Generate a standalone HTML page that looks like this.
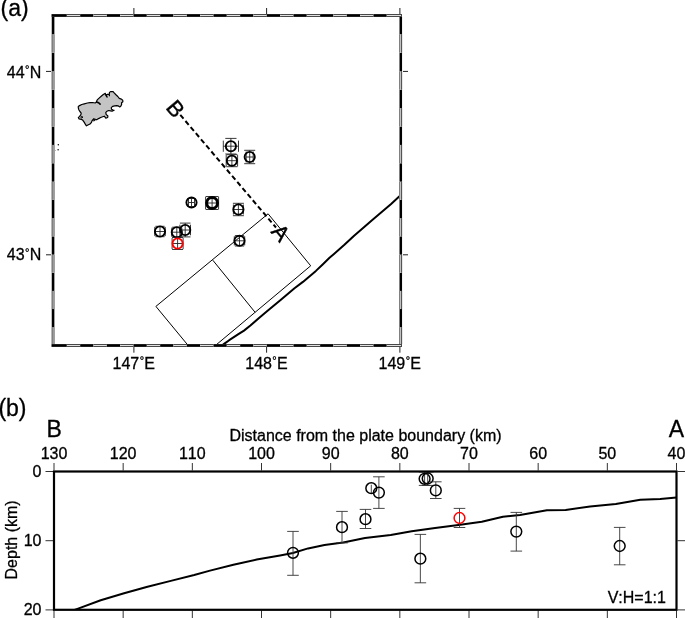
<!DOCTYPE html>
<html><head><meta charset="utf-8"><style>
html,body{margin:0;padding:0;background:#fff;width:685px;height:618px;overflow:hidden}
svg{display:block;will-change:transform}
text{font-family:"Liberation Sans",sans-serif;fill:#000;font-kerning:none}
</style></head><body>
<svg width="685" height="618" viewBox="0 0 685 618">
<rect width="685" height="618" fill="#fff"/>
<text x="0.47" y="16.20" stroke="#000" stroke-width="0.3"><tspan font-size="23">(a)</tspan></text>
<text x="41.30" y="77.62" text-anchor="end" stroke="#000" stroke-width="0.3"><tspan font-size="16">44</tspan><tspan font-size="11" dx="0.4" dy="-4.6">°</tspan><tspan font-size="16" dx="0.3" dy="4.6">N</tspan></text>
<text x="41.30" y="260.21" text-anchor="end" stroke="#000" stroke-width="0.3"><tspan font-size="16">43</tspan><tspan font-size="11" dx="0.4" dy="-4.6">°</tspan><tspan font-size="16" dx="0.3" dy="4.6">N</tspan></text>
<text x="133.80" y="368.70" text-anchor="middle" stroke="#000" stroke-width="0.3"><tspan font-size="16">147</tspan><tspan font-size="11" dx="0.4" dy="-4.6">°</tspan><tspan font-size="16" dx="0.3" dy="4.6">E</tspan></text>
<text x="266.50" y="368.70" text-anchor="middle" stroke="#000" stroke-width="0.3"><tspan font-size="16">148</tspan><tspan font-size="11" dx="0.4" dy="-4.6">°</tspan><tspan font-size="16" dx="0.3" dy="4.6">E</tspan></text>
<text x="399.80" y="368.70" text-anchor="middle" stroke="#000" stroke-width="0.3"><tspan font-size="16">149</tspan><tspan font-size="11" dx="0.4" dy="-4.6">°</tspan><tspan font-size="16" dx="0.3" dy="4.6">E</tspan></text>
<defs><clipPath id="mc"><rect x="53" y="15.5" width="347.5" height="330"/></clipPath></defs>
<g clip-path="url(#mc)">
<polygon points="78.3,106.6 79.6,105.6 81.7,104.5 84.3,103.8 87.4,103.0 90.0,102.6 92.6,102.5 95.2,103.0 96.4,102.2 96.7,100.9 97.2,99.9 99.1,98.1 101.2,96.3 103.3,94.5 105.3,93.4 105.8,94.7 106.6,96.4 106.4,94.9 107.9,94.2 109.2,94.7 109.5,92.4 110.5,91.6 113.1,91.6 114.4,93.2 115.7,94.5 117.8,96.5 119.3,98.4 121.4,99.1 122.7,100.2 122.9,101.7 121.6,102.8 121.6,104.6 120.9,106.1 119.8,106.9 118.3,105.9 116.7,105.6 114.7,105.9 112.6,106.4 111.3,107.7 111.5,109.2 113.1,110 114.1,110.3 112.1,111.1 110.5,110.8 108.7,110.5 106.9,111.3 105.8,112.4 106.1,114.4 107.9,116 107.7,117.5 105.8,118.1 104.3,116.2 102.7,116.8 100.7,117.5 98.6,118.6 97,119.6 96.7,119.8 95.2,119.3 93.6,118.8 92.0,120.8 91.5,122.4 90.0,124 87.9,125 86.4,125.8 85.6,124.7 84.3,122.4 82.7,120.1 81.2,119.3 79.1,118.8 78.3,117.7 79.6,116.4 80.9,114.6 81.2,113.1 79.9,111.5 78.8,109.7 78.3,107.9" fill="#c4c4c4" stroke="#000" stroke-width="1.2" stroke-linejoin="round"/>
<g fill="none" stroke="#000" stroke-linecap="round"><polyline points="96.6,101.9 98.5,102.7 100.1,104.2" stroke-width="1.6"/><polyline points="105.8,94.7 107.1,97.1" stroke-width="1.3"/><polyline points="109.2,94.7 109.5,95.8" stroke-width="1.1"/><circle cx="93.9" cy="120.1" r="0.9" stroke-width="1"/><circle cx="81.7" cy="117.2" r="0.8" stroke-width="1"/></g>
<circle cx="58.3" cy="144.7" r="0.75" fill="#000"/>
<circle cx="58.1" cy="149.8" r="0.75" fill="#000"/>
<circle cx="54.6" cy="150.5" r="0.75" fill="#000"/>
<g fill="none" stroke="#000" stroke-width="1">
<polyline points="268.1,213.8 310.7,265.8 214.2,346.5"/>
<polyline points="268.1,213.8 155.9,306.4 189.0,346.5"/>
<line x1="212.8" y1="260.2" x2="255.1" y2="312.3"/>
</g>
<polyline points="221.5,345.8 224.1,343.9 229.2,340.2 238.4,334.2 244,330.6 250.4,325.5 259.6,317.5 267.9,310.6 280.9,299.7 294.5,288.3 302.9,281.9 309.4,276.4 315.9,270.9 322.4,264.7 329.5,257.8 333.4,254.5 344.4,244.8 354.1,235.7 364.5,226.7 371.7,220.4 381.4,212.3 391.1,203.9 399.2,196.5 401,195" fill="none" stroke="#000" stroke-width="2" stroke-linejoin="round"/>
<line x1="179.5" y1="114" x2="276" y2="227.5" stroke="#000" stroke-width="2" stroke-dasharray="5,3" stroke-dashoffset="-1.2"/>
<text x="169.78" y="113.69" text-anchor="middle" transform="rotate(50 169.78 113.69)" stroke="#000" stroke-width="0.4"><tspan font-size="22">B</tspan></text>
<text x="274.98" y="237.69" text-anchor="middle" transform="rotate(50 274.98 237.69)" stroke="#000" stroke-width="0.4"><tspan font-size="22">A</tspan></text>
<line x1="223.3" y1="146.2" x2="238.5" y2="146.2" stroke="#222" stroke-width="0.9"/><line x1="230.9" y1="138.39999999999998" x2="230.9" y2="154.0" stroke="#222" stroke-width="0.9"/><line x1="223.3" y1="140.6" x2="223.3" y2="151.79999999999998" stroke="#222" stroke-width="0.9"/><line x1="238.5" y1="140.6" x2="238.5" y2="151.79999999999998" stroke="#222" stroke-width="0.9"/><line x1="225.3" y1="138.39999999999998" x2="236.5" y2="138.39999999999998" stroke="#222" stroke-width="0.9"/><line x1="225.3" y1="154.0" x2="236.5" y2="154.0" stroke="#222" stroke-width="0.9"/><circle cx="230.9" cy="146.2" r="5.1" fill="none" stroke="#000" stroke-width="1.9"/>
<line x1="226.20000000000002" y1="160.7" x2="237.6" y2="160.7" stroke="#222" stroke-width="0.9"/><line x1="231.9" y1="154.7" x2="231.9" y2="166.7" stroke="#222" stroke-width="0.9"/><line x1="226.20000000000002" y1="155.1" x2="226.20000000000002" y2="166.29999999999998" stroke="#222" stroke-width="0.9"/><line x1="237.6" y1="155.1" x2="237.6" y2="166.29999999999998" stroke="#222" stroke-width="0.9"/><line x1="226.3" y1="154.7" x2="237.5" y2="154.7" stroke="#222" stroke-width="0.9"/><line x1="226.3" y1="166.7" x2="237.5" y2="166.7" stroke="#222" stroke-width="0.9"/><circle cx="231.9" cy="160.7" r="5.1" fill="none" stroke="#000" stroke-width="1.9"/>
<line x1="246.2" y1="157.0" x2="253.2" y2="157.0" stroke="#222" stroke-width="0.9"/><line x1="249.7" y1="150.3" x2="249.7" y2="163.7" stroke="#222" stroke-width="0.9"/><line x1="246.2" y1="151.5" x2="246.2" y2="162.5" stroke="#222" stroke-width="0.9"/><line x1="253.2" y1="151.5" x2="253.2" y2="162.5" stroke="#222" stroke-width="0.9"/><line x1="244.2" y1="150.3" x2="255.2" y2="150.3" stroke="#222" stroke-width="0.9"/><line x1="244.2" y1="163.7" x2="255.2" y2="163.7" stroke="#222" stroke-width="0.9"/><circle cx="249.7" cy="157.0" r="5.1" fill="none" stroke="#000" stroke-width="1.9"/>
<line x1="188.5" y1="202.5" x2="194.5" y2="202.5" stroke="#222" stroke-width="0.9"/><line x1="191.5" y1="198.5" x2="191.5" y2="206.5" stroke="#222" stroke-width="0.9"/><line x1="188.5" y1="198.5" x2="188.5" y2="206.5" stroke="#222" stroke-width="0.9"/><line x1="194.5" y1="198.5" x2="194.5" y2="206.5" stroke="#222" stroke-width="0.9"/><line x1="187.5" y1="198.5" x2="195.5" y2="198.5" stroke="#222" stroke-width="0.9"/><line x1="187.5" y1="206.5" x2="195.5" y2="206.5" stroke="#222" stroke-width="0.9"/><circle cx="191.5" cy="202.5" r="5.1" fill="none" stroke="#000" stroke-width="1.9"/>
<line x1="205.6" y1="203.0" x2="218.6" y2="203.0" stroke="#222" stroke-width="0.9"/><line x1="212.1" y1="196.5" x2="212.1" y2="209.5" stroke="#222" stroke-width="0.9"/><line x1="205.6" y1="196.7" x2="205.6" y2="209.3" stroke="#222" stroke-width="0.9"/><line x1="218.6" y1="196.7" x2="218.6" y2="209.3" stroke="#222" stroke-width="0.9"/><line x1="205.79999999999998" y1="196.5" x2="218.4" y2="196.5" stroke="#222" stroke-width="0.9"/><line x1="205.79999999999998" y1="209.5" x2="218.4" y2="209.5" stroke="#222" stroke-width="0.9"/><circle cx="212.1" cy="203.0" r="5.4" fill="none" stroke="#000" stroke-width="3.0"/>
<line x1="233.4" y1="209.5" x2="243.4" y2="209.5" stroke="#222" stroke-width="0.9"/><line x1="238.4" y1="203.3" x2="238.4" y2="215.7" stroke="#222" stroke-width="0.9"/><line x1="233.4" y1="204.5" x2="233.4" y2="214.5" stroke="#222" stroke-width="0.9"/><line x1="243.4" y1="204.5" x2="243.4" y2="214.5" stroke="#222" stroke-width="0.9"/><line x1="232.9" y1="203.3" x2="243.9" y2="203.3" stroke="#222" stroke-width="0.9"/><line x1="232.9" y1="215.7" x2="243.9" y2="215.7" stroke="#222" stroke-width="0.9"/><circle cx="238.4" cy="209.5" r="5.1" fill="none" stroke="#000" stroke-width="1.9"/>
<line x1="154.8" y1="231.5" x2="165.2" y2="231.5" stroke="#222" stroke-width="0.9"/><line x1="160.0" y1="226.3" x2="160.0" y2="236.7" stroke="#222" stroke-width="0.9"/><line x1="154.8" y1="226.9" x2="154.8" y2="236.1" stroke="#222" stroke-width="0.9"/><line x1="165.2" y1="226.9" x2="165.2" y2="236.1" stroke="#222" stroke-width="0.9"/><line x1="155.4" y1="226.3" x2="164.6" y2="226.3" stroke="#222" stroke-width="0.9"/><line x1="155.4" y1="236.7" x2="164.6" y2="236.7" stroke="#222" stroke-width="0.9"/><circle cx="160.0" cy="231.5" r="5.1" fill="none" stroke="#000" stroke-width="1.9"/>
<line x1="171.8" y1="232.2" x2="181.8" y2="232.2" stroke="#222" stroke-width="0.9"/><line x1="176.8" y1="227.2" x2="176.8" y2="237.2" stroke="#222" stroke-width="0.9"/><line x1="171.8" y1="227.6" x2="171.8" y2="236.79999999999998" stroke="#222" stroke-width="0.9"/><line x1="181.8" y1="227.6" x2="181.8" y2="236.79999999999998" stroke="#222" stroke-width="0.9"/><line x1="172.20000000000002" y1="227.2" x2="181.4" y2="227.2" stroke="#222" stroke-width="0.9"/><line x1="172.20000000000002" y1="237.2" x2="181.4" y2="237.2" stroke="#222" stroke-width="0.9"/><circle cx="176.8" cy="232.2" r="5.1" fill="none" stroke="#000" stroke-width="1.9"/>
<line x1="179.89999999999998" y1="230.0" x2="190.5" y2="230.0" stroke="#222" stroke-width="0.9"/><line x1="185.2" y1="223.1" x2="185.2" y2="236.9" stroke="#222" stroke-width="0.9"/><line x1="179.89999999999998" y1="224.7" x2="179.89999999999998" y2="235.3" stroke="#222" stroke-width="0.9"/><line x1="190.5" y1="224.7" x2="190.5" y2="235.3" stroke="#222" stroke-width="0.9"/><line x1="179.89999999999998" y1="223.1" x2="190.5" y2="223.1" stroke="#222" stroke-width="0.9"/><line x1="179.89999999999998" y1="236.9" x2="190.5" y2="236.9" stroke="#222" stroke-width="0.9"/><circle cx="185.2" cy="230.0" r="5.1" fill="none" stroke="#000" stroke-width="1.9"/>
<line x1="172.1" y1="243.5" x2="183.1" y2="243.5" stroke="#222" stroke-width="0.9"/><line x1="177.6" y1="237.5" x2="177.6" y2="249.5" stroke="#222" stroke-width="0.9"/><line x1="172.1" y1="238.0" x2="172.1" y2="249.0" stroke="#222" stroke-width="0.9"/><line x1="183.1" y1="238.0" x2="183.1" y2="249.0" stroke="#222" stroke-width="0.9"/><line x1="172.1" y1="237.5" x2="183.1" y2="237.5" stroke="#222" stroke-width="0.9"/><line x1="172.1" y1="249.5" x2="183.1" y2="249.5" stroke="#222" stroke-width="0.9"/><circle cx="177.6" cy="243.5" r="5.1" fill="none" stroke="#f00" stroke-width="1.9"/>
<line x1="234.3" y1="240.8" x2="244.7" y2="240.8" stroke="#222" stroke-width="0.9"/><line x1="239.5" y1="235.60000000000002" x2="239.5" y2="246.0" stroke="#222" stroke-width="0.9"/><line x1="234.3" y1="236.20000000000002" x2="234.3" y2="245.4" stroke="#222" stroke-width="0.9"/><line x1="244.7" y1="236.20000000000002" x2="244.7" y2="245.4" stroke="#222" stroke-width="0.9"/><line x1="234.9" y1="235.60000000000002" x2="244.1" y2="235.60000000000002" stroke="#222" stroke-width="0.9"/><line x1="234.9" y1="246.0" x2="244.1" y2="246.0" stroke="#222" stroke-width="0.9"/><circle cx="239.5" cy="240.8" r="5.1" fill="none" stroke="#000" stroke-width="1.9"/>
</g>
<rect x="51.50" y="14.00" width="15.35" height="1.00" fill="#1e1e1e"/>
<rect x="51.50" y="344.00" width="15.35" height="1.00" fill="#1e1e1e"/>
<rect x="51.50" y="15.00" width="15.35" height="1.00" fill="#000"/>
<rect x="51.50" y="345.00" width="15.35" height="1.00" fill="#000"/>
<rect x="51.50" y="16.00" width="15.35" height="1.00" fill="#1e1e1e"/>
<rect x="51.50" y="346.00" width="15.35" height="1.00" fill="#1e1e1e"/>
<rect x="66.85" y="14.00" width="13.33" height="1.00" fill="#484848"/>
<rect x="66.85" y="344.00" width="13.33" height="1.00" fill="#484848"/>
<rect x="66.85" y="15.00" width="13.33" height="1.00" fill="#e0e0e0"/>
<rect x="66.85" y="345.00" width="13.33" height="1.00" fill="#e0e0e0"/>
<rect x="66.85" y="16.00" width="13.33" height="1.00" fill="#484848"/>
<rect x="66.85" y="346.00" width="13.33" height="1.00" fill="#484848"/>
<rect x="80.18" y="14.00" width="13.33" height="1.00" fill="#1e1e1e"/>
<rect x="80.18" y="344.00" width="13.33" height="1.00" fill="#1e1e1e"/>
<rect x="80.18" y="15.00" width="13.33" height="1.00" fill="#000"/>
<rect x="80.18" y="345.00" width="13.33" height="1.00" fill="#000"/>
<rect x="80.18" y="16.00" width="13.33" height="1.00" fill="#1e1e1e"/>
<rect x="80.18" y="346.00" width="13.33" height="1.00" fill="#1e1e1e"/>
<rect x="93.51" y="14.00" width="13.33" height="1.00" fill="#484848"/>
<rect x="93.51" y="344.00" width="13.33" height="1.00" fill="#484848"/>
<rect x="93.51" y="15.00" width="13.33" height="1.00" fill="#e0e0e0"/>
<rect x="93.51" y="345.00" width="13.33" height="1.00" fill="#e0e0e0"/>
<rect x="93.51" y="16.00" width="13.33" height="1.00" fill="#484848"/>
<rect x="93.51" y="346.00" width="13.33" height="1.00" fill="#484848"/>
<rect x="106.84" y="14.00" width="13.33" height="1.00" fill="#1e1e1e"/>
<rect x="106.84" y="344.00" width="13.33" height="1.00" fill="#1e1e1e"/>
<rect x="106.84" y="15.00" width="13.33" height="1.00" fill="#000"/>
<rect x="106.84" y="345.00" width="13.33" height="1.00" fill="#000"/>
<rect x="106.84" y="16.00" width="13.33" height="1.00" fill="#1e1e1e"/>
<rect x="106.84" y="346.00" width="13.33" height="1.00" fill="#1e1e1e"/>
<rect x="120.17" y="14.00" width="13.33" height="1.00" fill="#484848"/>
<rect x="120.17" y="344.00" width="13.33" height="1.00" fill="#484848"/>
<rect x="120.17" y="15.00" width="13.33" height="1.00" fill="#e0e0e0"/>
<rect x="120.17" y="345.00" width="13.33" height="1.00" fill="#e0e0e0"/>
<rect x="120.17" y="16.00" width="13.33" height="1.00" fill="#484848"/>
<rect x="120.17" y="346.00" width="13.33" height="1.00" fill="#484848"/>
<rect x="133.50" y="14.00" width="13.33" height="1.00" fill="#1e1e1e"/>
<rect x="133.50" y="344.00" width="13.33" height="1.00" fill="#1e1e1e"/>
<rect x="133.50" y="15.00" width="13.33" height="1.00" fill="#000"/>
<rect x="133.50" y="345.00" width="13.33" height="1.00" fill="#000"/>
<rect x="133.50" y="16.00" width="13.33" height="1.00" fill="#1e1e1e"/>
<rect x="133.50" y="346.00" width="13.33" height="1.00" fill="#1e1e1e"/>
<rect x="146.83" y="14.00" width="13.33" height="1.00" fill="#484848"/>
<rect x="146.83" y="344.00" width="13.33" height="1.00" fill="#484848"/>
<rect x="146.83" y="15.00" width="13.33" height="1.00" fill="#e0e0e0"/>
<rect x="146.83" y="345.00" width="13.33" height="1.00" fill="#e0e0e0"/>
<rect x="146.83" y="16.00" width="13.33" height="1.00" fill="#484848"/>
<rect x="146.83" y="346.00" width="13.33" height="1.00" fill="#484848"/>
<rect x="160.16" y="14.00" width="13.33" height="1.00" fill="#1e1e1e"/>
<rect x="160.16" y="344.00" width="13.33" height="1.00" fill="#1e1e1e"/>
<rect x="160.16" y="15.00" width="13.33" height="1.00" fill="#000"/>
<rect x="160.16" y="345.00" width="13.33" height="1.00" fill="#000"/>
<rect x="160.16" y="16.00" width="13.33" height="1.00" fill="#1e1e1e"/>
<rect x="160.16" y="346.00" width="13.33" height="1.00" fill="#1e1e1e"/>
<rect x="173.49" y="14.00" width="13.33" height="1.00" fill="#484848"/>
<rect x="173.49" y="344.00" width="13.33" height="1.00" fill="#484848"/>
<rect x="173.49" y="15.00" width="13.33" height="1.00" fill="#e0e0e0"/>
<rect x="173.49" y="345.00" width="13.33" height="1.00" fill="#e0e0e0"/>
<rect x="173.49" y="16.00" width="13.33" height="1.00" fill="#484848"/>
<rect x="173.49" y="346.00" width="13.33" height="1.00" fill="#484848"/>
<rect x="186.82" y="14.00" width="13.33" height="1.00" fill="#1e1e1e"/>
<rect x="186.82" y="344.00" width="13.33" height="1.00" fill="#1e1e1e"/>
<rect x="186.82" y="15.00" width="13.33" height="1.00" fill="#000"/>
<rect x="186.82" y="345.00" width="13.33" height="1.00" fill="#000"/>
<rect x="186.82" y="16.00" width="13.33" height="1.00" fill="#1e1e1e"/>
<rect x="186.82" y="346.00" width="13.33" height="1.00" fill="#1e1e1e"/>
<rect x="200.15" y="14.00" width="13.33" height="1.00" fill="#484848"/>
<rect x="200.15" y="344.00" width="13.33" height="1.00" fill="#484848"/>
<rect x="200.15" y="15.00" width="13.33" height="1.00" fill="#e0e0e0"/>
<rect x="200.15" y="345.00" width="13.33" height="1.00" fill="#e0e0e0"/>
<rect x="200.15" y="16.00" width="13.33" height="1.00" fill="#484848"/>
<rect x="200.15" y="346.00" width="13.33" height="1.00" fill="#484848"/>
<rect x="213.48" y="14.00" width="13.33" height="1.00" fill="#1e1e1e"/>
<rect x="213.48" y="344.00" width="13.33" height="1.00" fill="#1e1e1e"/>
<rect x="213.48" y="15.00" width="13.33" height="1.00" fill="#000"/>
<rect x="213.48" y="345.00" width="13.33" height="1.00" fill="#000"/>
<rect x="213.48" y="16.00" width="13.33" height="1.00" fill="#1e1e1e"/>
<rect x="213.48" y="346.00" width="13.33" height="1.00" fill="#1e1e1e"/>
<rect x="226.81" y="14.00" width="13.33" height="1.00" fill="#484848"/>
<rect x="226.81" y="344.00" width="13.33" height="1.00" fill="#484848"/>
<rect x="226.81" y="15.00" width="13.33" height="1.00" fill="#e0e0e0"/>
<rect x="226.81" y="345.00" width="13.33" height="1.00" fill="#e0e0e0"/>
<rect x="226.81" y="16.00" width="13.33" height="1.00" fill="#484848"/>
<rect x="226.81" y="346.00" width="13.33" height="1.00" fill="#484848"/>
<rect x="240.14" y="14.00" width="13.33" height="1.00" fill="#1e1e1e"/>
<rect x="240.14" y="344.00" width="13.33" height="1.00" fill="#1e1e1e"/>
<rect x="240.14" y="15.00" width="13.33" height="1.00" fill="#000"/>
<rect x="240.14" y="345.00" width="13.33" height="1.00" fill="#000"/>
<rect x="240.14" y="16.00" width="13.33" height="1.00" fill="#1e1e1e"/>
<rect x="240.14" y="346.00" width="13.33" height="1.00" fill="#1e1e1e"/>
<rect x="253.47" y="14.00" width="13.33" height="1.00" fill="#484848"/>
<rect x="253.47" y="344.00" width="13.33" height="1.00" fill="#484848"/>
<rect x="253.47" y="15.00" width="13.33" height="1.00" fill="#e0e0e0"/>
<rect x="253.47" y="345.00" width="13.33" height="1.00" fill="#e0e0e0"/>
<rect x="253.47" y="16.00" width="13.33" height="1.00" fill="#484848"/>
<rect x="253.47" y="346.00" width="13.33" height="1.00" fill="#484848"/>
<rect x="266.80" y="14.00" width="13.33" height="1.00" fill="#1e1e1e"/>
<rect x="266.80" y="344.00" width="13.33" height="1.00" fill="#1e1e1e"/>
<rect x="266.80" y="15.00" width="13.33" height="1.00" fill="#000"/>
<rect x="266.80" y="345.00" width="13.33" height="1.00" fill="#000"/>
<rect x="266.80" y="16.00" width="13.33" height="1.00" fill="#1e1e1e"/>
<rect x="266.80" y="346.00" width="13.33" height="1.00" fill="#1e1e1e"/>
<rect x="280.13" y="14.00" width="13.33" height="1.00" fill="#484848"/>
<rect x="280.13" y="344.00" width="13.33" height="1.00" fill="#484848"/>
<rect x="280.13" y="15.00" width="13.33" height="1.00" fill="#e0e0e0"/>
<rect x="280.13" y="345.00" width="13.33" height="1.00" fill="#e0e0e0"/>
<rect x="280.13" y="16.00" width="13.33" height="1.00" fill="#484848"/>
<rect x="280.13" y="346.00" width="13.33" height="1.00" fill="#484848"/>
<rect x="293.46" y="14.00" width="13.33" height="1.00" fill="#1e1e1e"/>
<rect x="293.46" y="344.00" width="13.33" height="1.00" fill="#1e1e1e"/>
<rect x="293.46" y="15.00" width="13.33" height="1.00" fill="#000"/>
<rect x="293.46" y="345.00" width="13.33" height="1.00" fill="#000"/>
<rect x="293.46" y="16.00" width="13.33" height="1.00" fill="#1e1e1e"/>
<rect x="293.46" y="346.00" width="13.33" height="1.00" fill="#1e1e1e"/>
<rect x="306.79" y="14.00" width="13.33" height="1.00" fill="#484848"/>
<rect x="306.79" y="344.00" width="13.33" height="1.00" fill="#484848"/>
<rect x="306.79" y="15.00" width="13.33" height="1.00" fill="#e0e0e0"/>
<rect x="306.79" y="345.00" width="13.33" height="1.00" fill="#e0e0e0"/>
<rect x="306.79" y="16.00" width="13.33" height="1.00" fill="#484848"/>
<rect x="306.79" y="346.00" width="13.33" height="1.00" fill="#484848"/>
<rect x="320.12" y="14.00" width="13.33" height="1.00" fill="#1e1e1e"/>
<rect x="320.12" y="344.00" width="13.33" height="1.00" fill="#1e1e1e"/>
<rect x="320.12" y="15.00" width="13.33" height="1.00" fill="#000"/>
<rect x="320.12" y="345.00" width="13.33" height="1.00" fill="#000"/>
<rect x="320.12" y="16.00" width="13.33" height="1.00" fill="#1e1e1e"/>
<rect x="320.12" y="346.00" width="13.33" height="1.00" fill="#1e1e1e"/>
<rect x="333.45" y="14.00" width="13.33" height="1.00" fill="#484848"/>
<rect x="333.45" y="344.00" width="13.33" height="1.00" fill="#484848"/>
<rect x="333.45" y="15.00" width="13.33" height="1.00" fill="#e0e0e0"/>
<rect x="333.45" y="345.00" width="13.33" height="1.00" fill="#e0e0e0"/>
<rect x="333.45" y="16.00" width="13.33" height="1.00" fill="#484848"/>
<rect x="333.45" y="346.00" width="13.33" height="1.00" fill="#484848"/>
<rect x="346.78" y="14.00" width="13.33" height="1.00" fill="#1e1e1e"/>
<rect x="346.78" y="344.00" width="13.33" height="1.00" fill="#1e1e1e"/>
<rect x="346.78" y="15.00" width="13.33" height="1.00" fill="#000"/>
<rect x="346.78" y="345.00" width="13.33" height="1.00" fill="#000"/>
<rect x="346.78" y="16.00" width="13.33" height="1.00" fill="#1e1e1e"/>
<rect x="346.78" y="346.00" width="13.33" height="1.00" fill="#1e1e1e"/>
<rect x="360.11" y="14.00" width="13.33" height="1.00" fill="#484848"/>
<rect x="360.11" y="344.00" width="13.33" height="1.00" fill="#484848"/>
<rect x="360.11" y="15.00" width="13.33" height="1.00" fill="#e0e0e0"/>
<rect x="360.11" y="345.00" width="13.33" height="1.00" fill="#e0e0e0"/>
<rect x="360.11" y="16.00" width="13.33" height="1.00" fill="#484848"/>
<rect x="360.11" y="346.00" width="13.33" height="1.00" fill="#484848"/>
<rect x="373.44" y="14.00" width="13.33" height="1.00" fill="#1e1e1e"/>
<rect x="373.44" y="344.00" width="13.33" height="1.00" fill="#1e1e1e"/>
<rect x="373.44" y="15.00" width="13.33" height="1.00" fill="#000"/>
<rect x="373.44" y="345.00" width="13.33" height="1.00" fill="#000"/>
<rect x="373.44" y="16.00" width="13.33" height="1.00" fill="#1e1e1e"/>
<rect x="373.44" y="346.00" width="13.33" height="1.00" fill="#1e1e1e"/>
<rect x="386.77" y="14.00" width="15.23" height="1.00" fill="#484848"/>
<rect x="386.77" y="344.00" width="15.23" height="1.00" fill="#484848"/>
<rect x="386.77" y="15.00" width="15.23" height="1.00" fill="#e0e0e0"/>
<rect x="386.77" y="345.00" width="15.23" height="1.00" fill="#e0e0e0"/>
<rect x="386.77" y="16.00" width="15.23" height="1.00" fill="#484848"/>
<rect x="386.77" y="346.00" width="15.23" height="1.00" fill="#484848"/>
<rect x="51.00" y="327.12" width="1.00" height="16.88" fill="#b9b9b9"/>
<rect x="399.00" y="327.12" width="1.00" height="16.88" fill="#808080"/>
<rect x="52.00" y="327.12" width="1.00" height="16.88" fill="#808080"/>
<rect x="400.00" y="327.12" width="1.00" height="16.88" fill="#c0c0c0"/>
<rect x="53.00" y="327.12" width="1.00" height="16.88" fill="#9b9b9b"/>
<rect x="401.00" y="327.12" width="1.00" height="16.88" fill="#555"/>
<rect x="54.00" y="327.12" width="1.00" height="16.88" fill="#a0a0a0"/>
<rect x="402.00" y="327.12" width="1.00" height="16.88" fill="#e8e8e8"/>
<rect x="51.00" y="309.04" width="1.00" height="18.09" fill="#bebebe"/>
<rect x="399.00" y="309.04" width="1.00" height="18.09" fill="#808080"/>
<rect x="52.00" y="309.04" width="1.00" height="18.09" fill="#000"/>
<rect x="400.00" y="309.04" width="1.00" height="18.09" fill="#000"/>
<rect x="53.00" y="309.04" width="1.00" height="18.09" fill="#000"/>
<rect x="401.00" y="309.04" width="1.00" height="18.09" fill="#000"/>
<rect x="54.00" y="309.04" width="1.00" height="18.09" fill="#a0a0a0"/>
<rect x="402.00" y="309.04" width="1.00" height="18.09" fill="#f0f0f0"/>
<rect x="51.00" y="290.92" width="1.00" height="18.11" fill="#b9b9b9"/>
<rect x="399.00" y="290.92" width="1.00" height="18.11" fill="#808080"/>
<rect x="52.00" y="290.92" width="1.00" height="18.11" fill="#808080"/>
<rect x="400.00" y="290.92" width="1.00" height="18.11" fill="#c0c0c0"/>
<rect x="53.00" y="290.92" width="1.00" height="18.11" fill="#9b9b9b"/>
<rect x="401.00" y="290.92" width="1.00" height="18.11" fill="#555"/>
<rect x="54.00" y="290.92" width="1.00" height="18.11" fill="#a0a0a0"/>
<rect x="402.00" y="290.92" width="1.00" height="18.11" fill="#e8e8e8"/>
<rect x="51.00" y="272.78" width="1.00" height="18.14" fill="#bebebe"/>
<rect x="399.00" y="272.78" width="1.00" height="18.14" fill="#808080"/>
<rect x="52.00" y="272.78" width="1.00" height="18.14" fill="#000"/>
<rect x="400.00" y="272.78" width="1.00" height="18.14" fill="#000"/>
<rect x="53.00" y="272.78" width="1.00" height="18.14" fill="#000"/>
<rect x="401.00" y="272.78" width="1.00" height="18.14" fill="#000"/>
<rect x="54.00" y="272.78" width="1.00" height="18.14" fill="#a0a0a0"/>
<rect x="402.00" y="272.78" width="1.00" height="18.14" fill="#f0f0f0"/>
<rect x="51.00" y="254.61" width="1.00" height="18.17" fill="#b9b9b9"/>
<rect x="399.00" y="254.61" width="1.00" height="18.17" fill="#808080"/>
<rect x="52.00" y="254.61" width="1.00" height="18.17" fill="#808080"/>
<rect x="400.00" y="254.61" width="1.00" height="18.17" fill="#c0c0c0"/>
<rect x="53.00" y="254.61" width="1.00" height="18.17" fill="#9b9b9b"/>
<rect x="401.00" y="254.61" width="1.00" height="18.17" fill="#555"/>
<rect x="54.00" y="254.61" width="1.00" height="18.17" fill="#a0a0a0"/>
<rect x="402.00" y="254.61" width="1.00" height="18.17" fill="#e8e8e8"/>
<rect x="51.00" y="236.40" width="1.00" height="18.20" fill="#bebebe"/>
<rect x="399.00" y="236.40" width="1.00" height="18.20" fill="#808080"/>
<rect x="52.00" y="236.40" width="1.00" height="18.20" fill="#000"/>
<rect x="400.00" y="236.40" width="1.00" height="18.20" fill="#000"/>
<rect x="53.00" y="236.40" width="1.00" height="18.20" fill="#000"/>
<rect x="401.00" y="236.40" width="1.00" height="18.20" fill="#000"/>
<rect x="54.00" y="236.40" width="1.00" height="18.20" fill="#a0a0a0"/>
<rect x="402.00" y="236.40" width="1.00" height="18.20" fill="#f0f0f0"/>
<rect x="51.00" y="218.17" width="1.00" height="18.23" fill="#b9b9b9"/>
<rect x="399.00" y="218.17" width="1.00" height="18.23" fill="#808080"/>
<rect x="52.00" y="218.17" width="1.00" height="18.23" fill="#808080"/>
<rect x="400.00" y="218.17" width="1.00" height="18.23" fill="#c0c0c0"/>
<rect x="53.00" y="218.17" width="1.00" height="18.23" fill="#9b9b9b"/>
<rect x="401.00" y="218.17" width="1.00" height="18.23" fill="#555"/>
<rect x="54.00" y="218.17" width="1.00" height="18.23" fill="#a0a0a0"/>
<rect x="402.00" y="218.17" width="1.00" height="18.23" fill="#e8e8e8"/>
<rect x="51.00" y="199.91" width="1.00" height="18.26" fill="#bebebe"/>
<rect x="399.00" y="199.91" width="1.00" height="18.26" fill="#808080"/>
<rect x="52.00" y="199.91" width="1.00" height="18.26" fill="#000"/>
<rect x="400.00" y="199.91" width="1.00" height="18.26" fill="#000"/>
<rect x="53.00" y="199.91" width="1.00" height="18.26" fill="#000"/>
<rect x="401.00" y="199.91" width="1.00" height="18.26" fill="#000"/>
<rect x="54.00" y="199.91" width="1.00" height="18.26" fill="#a0a0a0"/>
<rect x="402.00" y="199.91" width="1.00" height="18.26" fill="#f0f0f0"/>
<rect x="51.00" y="181.61" width="1.00" height="18.29" fill="#b9b9b9"/>
<rect x="399.00" y="181.61" width="1.00" height="18.29" fill="#808080"/>
<rect x="52.00" y="181.61" width="1.00" height="18.29" fill="#808080"/>
<rect x="400.00" y="181.61" width="1.00" height="18.29" fill="#c0c0c0"/>
<rect x="53.00" y="181.61" width="1.00" height="18.29" fill="#9b9b9b"/>
<rect x="401.00" y="181.61" width="1.00" height="18.29" fill="#555"/>
<rect x="54.00" y="181.61" width="1.00" height="18.29" fill="#a0a0a0"/>
<rect x="402.00" y="181.61" width="1.00" height="18.29" fill="#e8e8e8"/>
<rect x="51.00" y="163.29" width="1.00" height="18.32" fill="#bebebe"/>
<rect x="399.00" y="163.29" width="1.00" height="18.32" fill="#808080"/>
<rect x="52.00" y="163.29" width="1.00" height="18.32" fill="#000"/>
<rect x="400.00" y="163.29" width="1.00" height="18.32" fill="#000"/>
<rect x="53.00" y="163.29" width="1.00" height="18.32" fill="#000"/>
<rect x="401.00" y="163.29" width="1.00" height="18.32" fill="#000"/>
<rect x="54.00" y="163.29" width="1.00" height="18.32" fill="#a0a0a0"/>
<rect x="402.00" y="163.29" width="1.00" height="18.32" fill="#f0f0f0"/>
<rect x="51.00" y="144.94" width="1.00" height="18.35" fill="#b9b9b9"/>
<rect x="399.00" y="144.94" width="1.00" height="18.35" fill="#808080"/>
<rect x="52.00" y="144.94" width="1.00" height="18.35" fill="#808080"/>
<rect x="400.00" y="144.94" width="1.00" height="18.35" fill="#c0c0c0"/>
<rect x="53.00" y="144.94" width="1.00" height="18.35" fill="#9b9b9b"/>
<rect x="401.00" y="144.94" width="1.00" height="18.35" fill="#555"/>
<rect x="54.00" y="144.94" width="1.00" height="18.35" fill="#a0a0a0"/>
<rect x="402.00" y="144.94" width="1.00" height="18.35" fill="#e8e8e8"/>
<rect x="51.00" y="126.55" width="1.00" height="18.38" fill="#bebebe"/>
<rect x="399.00" y="126.55" width="1.00" height="18.38" fill="#808080"/>
<rect x="52.00" y="126.55" width="1.00" height="18.38" fill="#000"/>
<rect x="400.00" y="126.55" width="1.00" height="18.38" fill="#000"/>
<rect x="53.00" y="126.55" width="1.00" height="18.38" fill="#000"/>
<rect x="401.00" y="126.55" width="1.00" height="18.38" fill="#000"/>
<rect x="54.00" y="126.55" width="1.00" height="18.38" fill="#a0a0a0"/>
<rect x="402.00" y="126.55" width="1.00" height="18.38" fill="#f0f0f0"/>
<rect x="51.00" y="108.14" width="1.00" height="18.41" fill="#b9b9b9"/>
<rect x="399.00" y="108.14" width="1.00" height="18.41" fill="#808080"/>
<rect x="52.00" y="108.14" width="1.00" height="18.41" fill="#808080"/>
<rect x="400.00" y="108.14" width="1.00" height="18.41" fill="#c0c0c0"/>
<rect x="53.00" y="108.14" width="1.00" height="18.41" fill="#9b9b9b"/>
<rect x="401.00" y="108.14" width="1.00" height="18.41" fill="#555"/>
<rect x="54.00" y="108.14" width="1.00" height="18.41" fill="#a0a0a0"/>
<rect x="402.00" y="108.14" width="1.00" height="18.41" fill="#e8e8e8"/>
<rect x="51.00" y="89.69" width="1.00" height="18.45" fill="#bebebe"/>
<rect x="399.00" y="89.69" width="1.00" height="18.45" fill="#808080"/>
<rect x="52.00" y="89.69" width="1.00" height="18.45" fill="#000"/>
<rect x="400.00" y="89.69" width="1.00" height="18.45" fill="#000"/>
<rect x="53.00" y="89.69" width="1.00" height="18.45" fill="#000"/>
<rect x="401.00" y="89.69" width="1.00" height="18.45" fill="#000"/>
<rect x="54.00" y="89.69" width="1.00" height="18.45" fill="#a0a0a0"/>
<rect x="402.00" y="89.69" width="1.00" height="18.45" fill="#f0f0f0"/>
<rect x="51.00" y="71.22" width="1.00" height="18.48" fill="#b9b9b9"/>
<rect x="399.00" y="71.22" width="1.00" height="18.48" fill="#808080"/>
<rect x="52.00" y="71.22" width="1.00" height="18.48" fill="#808080"/>
<rect x="400.00" y="71.22" width="1.00" height="18.48" fill="#c0c0c0"/>
<rect x="53.00" y="71.22" width="1.00" height="18.48" fill="#9b9b9b"/>
<rect x="401.00" y="71.22" width="1.00" height="18.48" fill="#555"/>
<rect x="54.00" y="71.22" width="1.00" height="18.48" fill="#a0a0a0"/>
<rect x="402.00" y="71.22" width="1.00" height="18.48" fill="#e8e8e8"/>
<rect x="51.00" y="52.71" width="1.00" height="18.51" fill="#bebebe"/>
<rect x="399.00" y="52.71" width="1.00" height="18.51" fill="#808080"/>
<rect x="52.00" y="52.71" width="1.00" height="18.51" fill="#000"/>
<rect x="400.00" y="52.71" width="1.00" height="18.51" fill="#000"/>
<rect x="53.00" y="52.71" width="1.00" height="18.51" fill="#000"/>
<rect x="401.00" y="52.71" width="1.00" height="18.51" fill="#000"/>
<rect x="54.00" y="52.71" width="1.00" height="18.51" fill="#a0a0a0"/>
<rect x="402.00" y="52.71" width="1.00" height="18.51" fill="#f0f0f0"/>
<rect x="51.00" y="34.17" width="1.00" height="18.54" fill="#b9b9b9"/>
<rect x="399.00" y="34.17" width="1.00" height="18.54" fill="#808080"/>
<rect x="52.00" y="34.17" width="1.00" height="18.54" fill="#808080"/>
<rect x="400.00" y="34.17" width="1.00" height="18.54" fill="#c0c0c0"/>
<rect x="53.00" y="34.17" width="1.00" height="18.54" fill="#9b9b9b"/>
<rect x="401.00" y="34.17" width="1.00" height="18.54" fill="#555"/>
<rect x="54.00" y="34.17" width="1.00" height="18.54" fill="#a0a0a0"/>
<rect x="402.00" y="34.17" width="1.00" height="18.54" fill="#e8e8e8"/>
<rect x="51.00" y="17.00" width="1.00" height="17.17" fill="#bebebe"/>
<rect x="399.00" y="17.00" width="1.00" height="17.17" fill="#808080"/>
<rect x="52.00" y="17.00" width="1.00" height="17.17" fill="#000"/>
<rect x="400.00" y="17.00" width="1.00" height="17.17" fill="#000"/>
<rect x="53.00" y="17.00" width="1.00" height="17.17" fill="#000"/>
<rect x="401.00" y="17.00" width="1.00" height="17.17" fill="#000"/>
<rect x="54.00" y="17.00" width="1.00" height="17.17" fill="#a0a0a0"/>
<rect x="402.00" y="17.00" width="1.00" height="17.17" fill="#f0f0f0"/>
<rect x="401.00" y="14.00" width="1.00" height="3.00" fill="#484848"/>
<rect x="401.00" y="344.00" width="1.00" height="3.00" fill="#484848"/>
<line x1="133.90" y1="8" x2="133.90" y2="14" stroke="#222" stroke-width="1"/>
<line x1="133.90" y1="347" x2="133.90" y2="352.7" stroke="#222" stroke-width="1"/>
<line x1="266.60" y1="8" x2="266.60" y2="14" stroke="#222" stroke-width="1"/>
<line x1="266.60" y1="347" x2="266.60" y2="352.7" stroke="#222" stroke-width="1"/>
<line x1="399.90" y1="8" x2="399.90" y2="14" stroke="#222" stroke-width="1"/>
<line x1="399.90" y1="347" x2="399.90" y2="352.7" stroke="#222" stroke-width="1"/>
<line x1="46" y1="254.81" x2="51" y2="254.81" stroke="#222" stroke-width="1"/>
<line x1="403" y1="254.81" x2="408" y2="254.81" stroke="#222" stroke-width="1"/>
<line x1="46" y1="71.42" x2="51" y2="71.42" stroke="#222" stroke-width="1"/>
<line x1="403" y1="71.42" x2="408" y2="71.42" stroke="#222" stroke-width="1"/>
<text x="-1.60" y="415.90" stroke="#000" stroke-width="0.3"><tspan font-size="23">(b)</tspan></text>
<text x="54.20" y="436.80" text-anchor="middle" stroke="#000" stroke-width="0.3"><tspan font-size="23">B</tspan></text>
<text x="676.40" y="436.80" text-anchor="middle" stroke="#000" stroke-width="0.3"><tspan font-size="23">A</tspan></text>
<text x="365.50" y="440.80" text-anchor="middle" stroke="#000" stroke-width="0.3"><tspan font-size="16">Distance from the plate boundary (km)</tspan></text>
<text x="54.00" y="458.70" text-anchor="middle" stroke="#000" stroke-width="0.3"><tspan font-size="16">130</tspan></text>
<line x1="54.00" y1="463" x2="54.00" y2="470.5" stroke="#333" stroke-width="1"/>
<line x1="54.00" y1="610.5" x2="54.00" y2="618" stroke="#333" stroke-width="1"/>
<text x="123.17" y="458.70" text-anchor="middle" stroke="#000" stroke-width="0.3"><tspan font-size="16">120</tspan></text>
<line x1="123.17" y1="463" x2="123.17" y2="470.5" stroke="#333" stroke-width="1"/>
<line x1="123.17" y1="610.5" x2="123.17" y2="618" stroke="#333" stroke-width="1"/>
<text x="192.33" y="458.70" text-anchor="middle" stroke="#000" stroke-width="0.3"><tspan font-size="16">110</tspan></text>
<line x1="192.33" y1="463" x2="192.33" y2="470.5" stroke="#333" stroke-width="1"/>
<line x1="192.33" y1="610.5" x2="192.33" y2="618" stroke="#333" stroke-width="1"/>
<text x="261.50" y="458.70" text-anchor="middle" stroke="#000" stroke-width="0.3"><tspan font-size="16">100</tspan></text>
<line x1="261.50" y1="463" x2="261.50" y2="470.5" stroke="#333" stroke-width="1"/>
<line x1="261.50" y1="610.5" x2="261.50" y2="618" stroke="#333" stroke-width="1"/>
<text x="330.67" y="458.70" text-anchor="middle" stroke="#000" stroke-width="0.3"><tspan font-size="16">90</tspan></text>
<line x1="330.67" y1="463" x2="330.67" y2="470.5" stroke="#333" stroke-width="1"/>
<line x1="330.67" y1="610.5" x2="330.67" y2="618" stroke="#333" stroke-width="1"/>
<text x="399.83" y="458.70" text-anchor="middle" stroke="#000" stroke-width="0.3"><tspan font-size="16">80</tspan></text>
<line x1="399.83" y1="463" x2="399.83" y2="470.5" stroke="#333" stroke-width="1"/>
<line x1="399.83" y1="610.5" x2="399.83" y2="618" stroke="#333" stroke-width="1"/>
<text x="469.00" y="458.70" text-anchor="middle" stroke="#000" stroke-width="0.3"><tspan font-size="16">70</tspan></text>
<line x1="469.00" y1="463" x2="469.00" y2="470.5" stroke="#333" stroke-width="1"/>
<line x1="469.00" y1="610.5" x2="469.00" y2="618" stroke="#333" stroke-width="1"/>
<text x="538.17" y="458.70" text-anchor="middle" stroke="#000" stroke-width="0.3"><tspan font-size="16">60</tspan></text>
<line x1="538.17" y1="463" x2="538.17" y2="470.5" stroke="#333" stroke-width="1"/>
<line x1="538.17" y1="610.5" x2="538.17" y2="618" stroke="#333" stroke-width="1"/>
<text x="607.34" y="458.70" text-anchor="middle" stroke="#000" stroke-width="0.3"><tspan font-size="16">50</tspan></text>
<line x1="607.34" y1="463" x2="607.34" y2="470.5" stroke="#333" stroke-width="1"/>
<line x1="607.34" y1="610.5" x2="607.34" y2="618" stroke="#333" stroke-width="1"/>
<text x="676.50" y="458.70" text-anchor="middle" stroke="#000" stroke-width="0.3"><tspan font-size="16">40</tspan></text>
<line x1="676.50" y1="463" x2="676.50" y2="470.5" stroke="#333" stroke-width="1"/>
<line x1="676.50" y1="610.5" x2="676.50" y2="618" stroke="#333" stroke-width="1"/>
<text x="41.50" y="476.80" text-anchor="end" stroke="#000" stroke-width="0.3"><tspan font-size="16">0</tspan></text>
<line x1="45.5" y1="471.50" x2="53" y2="471.50" stroke="#333" stroke-width="1"/>
<line x1="677.5" y1="471.50" x2="685" y2="471.50" stroke="#333" stroke-width="1"/>
<text x="41.50" y="546.00" text-anchor="end" stroke="#000" stroke-width="0.3"><tspan font-size="16">10</tspan></text>
<line x1="45.5" y1="540.70" x2="53" y2="540.70" stroke="#333" stroke-width="1"/>
<line x1="677.5" y1="540.70" x2="685" y2="540.70" stroke="#333" stroke-width="1"/>
<text x="41.50" y="615.20" text-anchor="end" stroke="#000" stroke-width="0.3"><tspan font-size="16">20</tspan></text>
<line x1="45.5" y1="609.90" x2="53" y2="609.90" stroke="#333" stroke-width="1"/>
<line x1="677.5" y1="609.90" x2="685" y2="609.90" stroke="#333" stroke-width="1"/>
<text x="17.00" y="539.90" text-anchor="middle" transform="rotate(-90 17.00 539.90)" stroke="#000" stroke-width="0.3"><tspan font-size="16">Depth (km)</tspan></text>
<text x="665.90" y="602.50" text-anchor="end" stroke="#000" stroke-width="0.3"><tspan font-size="16">V:H=1:1</tspan></text>
<defs><clipPath id="bc"><rect x="54" y="471.5" width="622.5" height="138.3"/></clipPath></defs>
<g clip-path="url(#bc)">
<polyline points="70,611.5 77.4,608.9 100.7,600.3 124.1,593.3 147.5,586.7 170.8,580.9 194.2,575 210,570.6 233.4,564.7 256.7,559.6 280.1,555.4 292.9,553 308.1,548.4 324.5,544.9 343.2,542.5 365,538.0 390.7,534.9 411.7,531.2 435.1,527.9 458.5,524.9 481.8,521.8 502.9,516.7 520,515 546.9,510.3 565.6,509.9 590.1,506.4 615.8,504 640.3,499.8 660.2,498.9 676.5,497.4" fill="none" stroke="#000" stroke-width="2" stroke-linejoin="round"/>
</g>
<line x1="293.0" y1="531.4" x2="293.0" y2="575.3" stroke="#333" stroke-width="0.9"/><line x1="287.2" y1="531.4" x2="298.8" y2="531.4" stroke="#333" stroke-width="0.9"/><line x1="287.2" y1="575.3" x2="298.8" y2="575.3" stroke="#333" stroke-width="0.9"/><circle cx="293.0" cy="552.8" r="5.4" fill="none" stroke="#000" stroke-width="1.5"/>
<line x1="342.0" y1="511.4" x2="342.0" y2="542.9" stroke="#333" stroke-width="0.9"/><line x1="336.2" y1="511.4" x2="347.8" y2="511.4" stroke="#333" stroke-width="0.9"/><line x1="336.2" y1="542.9" x2="347.8" y2="542.9" stroke="#333" stroke-width="0.9"/><circle cx="342.0" cy="527.2" r="5.4" fill="none" stroke="#000" stroke-width="1.5"/>
<line x1="365.5" y1="509.4" x2="365.5" y2="528.5" stroke="#333" stroke-width="0.9"/><line x1="359.7" y1="509.4" x2="371.3" y2="509.4" stroke="#333" stroke-width="0.9"/><line x1="359.7" y1="528.5" x2="371.3" y2="528.5" stroke="#333" stroke-width="0.9"/><circle cx="365.5" cy="519.2" r="5.4" fill="none" stroke="#000" stroke-width="1.5"/>
<line x1="378.9" y1="476.8" x2="378.9" y2="508.4" stroke="#333" stroke-width="0.9"/><line x1="373.09999999999997" y1="476.8" x2="384.7" y2="476.8" stroke="#333" stroke-width="0.9"/><line x1="373.09999999999997" y1="508.4" x2="384.7" y2="508.4" stroke="#333" stroke-width="0.9"/><circle cx="378.9" cy="492.6" r="5.4" fill="none" stroke="#000" stroke-width="1.5"/>
<line x1="424.6" y1="472" x2="424.6" y2="485.4" stroke="#333" stroke-width="0.9"/><line x1="418.8" y1="472" x2="430.40000000000003" y2="472" stroke="#333" stroke-width="0.9"/><line x1="418.8" y1="485.4" x2="430.40000000000003" y2="485.4" stroke="#333" stroke-width="0.9"/><circle cx="424.6" cy="478.8" r="5.4" fill="none" stroke="#000" stroke-width="1.5"/>
<line x1="427.7" y1="472" x2="427.7" y2="485.4" stroke="#333" stroke-width="0.9"/><line x1="421.9" y1="472" x2="433.5" y2="472" stroke="#333" stroke-width="0.9"/><line x1="421.9" y1="485.4" x2="433.5" y2="485.4" stroke="#333" stroke-width="0.9"/><circle cx="427.7" cy="478.5" r="5.4" fill="none" stroke="#000" stroke-width="1.5"/>
<line x1="435.8" y1="481.8" x2="435.8" y2="498.5" stroke="#333" stroke-width="0.9"/><line x1="430.0" y1="481.8" x2="441.6" y2="481.8" stroke="#333" stroke-width="0.9"/><line x1="430.0" y1="498.5" x2="441.6" y2="498.5" stroke="#333" stroke-width="0.9"/><circle cx="435.8" cy="490.4" r="5.4" fill="none" stroke="#000" stroke-width="1.5"/>
<line x1="420.35" y1="534.4" x2="420.35" y2="582.8" stroke="#333" stroke-width="0.9"/><line x1="414.55" y1="534.4" x2="426.15000000000003" y2="534.4" stroke="#333" stroke-width="0.9"/><line x1="414.55" y1="582.8" x2="426.15000000000003" y2="582.8" stroke="#333" stroke-width="0.9"/><circle cx="420.35" cy="558.7" r="5.4" fill="none" stroke="#000" stroke-width="1.5"/>
<line x1="516.3" y1="512.4" x2="516.3" y2="551.1" stroke="#333" stroke-width="0.9"/><line x1="510.49999999999994" y1="512.4" x2="522.0999999999999" y2="512.4" stroke="#333" stroke-width="0.9"/><line x1="510.49999999999994" y1="551.1" x2="522.0999999999999" y2="551.1" stroke="#333" stroke-width="0.9"/><circle cx="516.3" cy="531.6" r="5.4" fill="none" stroke="#000" stroke-width="1.5"/>
<line x1="619.7" y1="527.4" x2="619.7" y2="564.8" stroke="#333" stroke-width="0.9"/><line x1="613.9000000000001" y1="527.4" x2="625.5" y2="527.4" stroke="#333" stroke-width="0.9"/><line x1="613.9000000000001" y1="564.8" x2="625.5" y2="564.8" stroke="#333" stroke-width="0.9"/><circle cx="619.7" cy="546" r="5.4" fill="none" stroke="#000" stroke-width="1.5"/>
<line x1="371.3" y1="484.7" x2="371.3" y2="493.2" stroke="#333" stroke-width="0.9"/><circle cx="371.3" cy="488.2" r="5.4" fill="none" stroke="#000" stroke-width="1.5"/>
<line x1="459.5" y1="508.4" x2="459.5" y2="527.5" stroke="#333" stroke-width="0.9"/><line x1="453.7" y1="508.4" x2="465.3" y2="508.4" stroke="#333" stroke-width="0.9"/><line x1="453.7" y1="527.5" x2="465.3" y2="527.5" stroke="#333" stroke-width="0.9"/><circle cx="459.5" cy="518.0" r="5.4" fill="none" stroke="#f00" stroke-width="1.5"/>
<rect x="54" y="471.5" width="622.5" height="138.3" fill="none" stroke="#000" stroke-width="2.2"/>
</svg>
</body></html>
